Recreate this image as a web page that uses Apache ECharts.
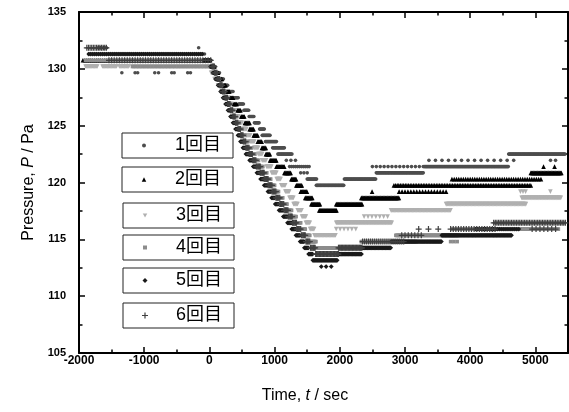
<!DOCTYPE html>
<html><head><meta charset="utf-8">
<script src="https://cdn.jsdelivr.net/npm/echarts@6/dist/echarts.min.js"></script>
<style>html,body{margin:0;padding:0;background:#fff}#c{width:569px;height:412px}</style>
</head><body><div id="c"></div>
<script>
// ---- axis ranges / ticks ----
const X_MIN = -2000, X_MAX = 5500, X_INTERVAL = 1000, X_MINOR = 500;
const Y_MIN = 105, Y_MAX = 135, Y_INTERVAL = 5;
const X_LABEL_LAST = 5000;

const NAMES = ['1回目', '2回目', '3回目', '4回目', '5回目', '6回目'];

// ---- data: runs of constant pressure [tStart, tEnd, P, sampleStep(s)] ----
const RUN1 = [
 [-1850,-60,131.3,25],
 [-1343,-1343,129.65],[-1140,-1140,129.65],[-1100,-1100,129.65],[-838,-838,129.65],[-780,-780,129.65],[-578,-578,129.65],[-540,-540,129.65],[-333,-333,129.65],[-290,-290,129.65],
 [-165,-165,131.85],
 [-50,30,130.75],[30,95,130.2],[95,155,129.65],[155,220,129.1],[220,290,128.55],[290,370,128.0],[370,450,127.45],[450,530,126.9],[530,610,126.35],[610,690,125.8],[690,770,125.25],[770,850,124.7],[810,930,124.15],[860,1030,123.6],[970,1150,123.05],[1050,1270,122.5],[1180,1320,121.95,70],[1230,1530,121.4,30],[1400,1500,120.85,50],[1500,1650,120.3],[1640,2070,119.75],[2070,2560,120.3],[2560,3290,120.85],[2500,3300,121.4,60],[3300,4590,121.4],[3367,4700,121.95,100],[5232,5232,121.95],[5309,5309,121.95],[4590,5460,122.5]
];
const RUN2 = [
 [-1940,29,130.75,30],
 [29,86,130.2],[86,143,129.65],[143,201,129.1],[201,258,128.55],[258,315,128.0],[315,372,127.45],[372,430,126.9],[430,487,126.35],[487,544,125.8],[544,617,125.25],[617,680,124.7],[680,742,124.15],[742,805,123.6],[805,867,123.05],[867,930,122.5],[930,1028,121.95],[1028,1150,121.4],[1150,1257,120.85],[1257,1333,120.3],[1333,1425,119.75],[1400,1500,119.2],[1470,1578,118.65],[1563,1700,118.1],[1685,1960,117.55],[1945,2343,118.1],[2330,2910,118.65],[2495,2495,119.2],[2910,3670,119.2,45],[2830,4940,119.75,25],[3720,5095,120.3,35],[4930,5400,120.85],[5125,5125,121.4],[5294,5294,121.4]
];
const RUN3 = [
 [-1900,-1710,130.2],[-1640,-1420,130.2],[-1380,-1230,130.2],[-1180,26,130.2],
 [26,79,129.65],[79,132,129.1],[132,185,128.55],[185,238,128.0],[238,291,127.45],[291,344,126.9],[344,397,126.35],[397,450,125.8],[450,507,125.25],[507,567,124.7],[567,628,124.15],[628,688,123.6],[688,749,123.05],[749,809,122.5],[809,877,121.95],[877,955,121.4],[955,1032,120.85],[1032,1102,120.3],[1102,1165,119.75],[1165,1228,119.2],[1228,1291,118.65],[1291,1354,118.1],[1354,1420,117.55],[1420,1480,117.0],[1480,1545,116.45],[1545,1610,115.9],[1610,1945,115.35],[1945,2250,115.9,60],[1945,2800,116.45],[2373,2786,117.0,60],[2786,3700,117.55],[3630,4865,118.1],[4790,5400,118.65],[4770,4850,119.2,40],[5230,5230,119.2]
];
const RUN4 = [
 [-1900,0,130.75,40],[-1180,50,130.2,50],
 [50,100,129.65],[100,150,129.1],[150,195,128.55],[195,240,128.0],[240,285,127.45],[285,330,126.9],[330,375,126.35],[375,420,125.8],[420,465,125.25],[465,510,124.7],[510,555,124.15],[555,600,123.6],[600,650,123.05],[650,705,122.5],[705,760,121.95],[760,820,121.4],[820,880,120.85],[880,940,120.3],[940,1000,119.75],[1000,1065,119.2],[1065,1130,118.65],[1130,1200,118.1],[1200,1270,117.55],[1270,1340,117.0],[1340,1410,116.45],[1410,1480,115.9],[1480,1550,115.35],[1550,1640,114.8],[1640,2330,114.25],[2330,3180,114.8],[2860,3830,115.35],[3700,3800,114.8,50],[3720,5355,115.9],[4390,5460,116.45,50]
];
const RUN5 = [
 [-1850,-100,131.3,30],[-1700,-1560,131.85,40],
 [-90,19,130.75],[19,57,130.2],[57,95,129.65],[95,134,129.1],[134,172,128.55],[172,210,128.0],[210,248,127.45],[248,286,126.9],[286,324,126.35],[324,363,125.8],[363,401,125.25],[401,439,124.7],[439,477,124.15],[477,515,123.6],[515,561,123.05],[561,617,122.5],[617,673,121.95],[673,729,121.4],[729,785,120.85],[785,841,120.3],[841,898,119.75],[898,954,119.2],[954,1010,118.65],[1010,1069,118.1],[1069,1134,117.55],[1134,1198,117.0],[1198,1263,116.45],[1263,1328,115.9],[1328,1392,115.35],[1392,1457,114.8],[1457,1522,114.25],[1522,1587,113.7],[1587,1960,113.15],[1716,1716,112.6],[1790,1790,112.6],[1869,1869,112.6],[1960,2340,113.7],[2300,2790,114.25],[2790,3565,114.8],[3565,4640,115.35],[4085,4745,115.9,30]
];
const RUN6 = [
 [-1880,-1560,131.85,25],[-1540,40,130.75,40],
 [40,80,130.2],[80,120,129.65],[120,160,129.1],[160,200,128.55],[200,240,128.0],[240,280,127.45],[280,320,126.9],[320,360,126.35],[360,400,125.8],[400,440,125.25],[440,480,124.7],[480,520,124.15],[520,560,123.6],[560,610,123.05],[610,665,122.5],[665,720,121.95],[720,780,121.4],[780,840,120.85],[840,900,120.3],[900,960,119.75],[960,1020,119.2],[1020,1080,118.65],[1080,1145,118.1],[1145,1210,117.55],[1210,1275,117.0],[1275,1340,116.45],[1340,1410,115.9],[1410,1480,115.35],[1480,1550,114.8],[1550,1630,114.25],[1630,1980,113.7],[1980,2350,114.25],[2350,3000,114.8,30],[2950,3250,115.35,50],[3210,3510,115.9,150],[3700,4400,115.9,40],[4360,5470,116.45,25],[4950,5350,115.9,60]
];
const RUNS = [RUN1, RUN2, RUN3, RUN4, RUN5, RUN6];

function expand(runs) {
  const out = [];
  for (const r of runs) {
    const step = r[3] || 12;
    for (let t = r[0]; t <= r[1]; t += step) out.push([t, r[2]]);
  }
  return out;
}

const FONT = "'Liberation Sans', Arial, 'Noto Sans CJK JP', sans-serif";
const PLUS = 'path://M0,4H10V6H0Z M4,0H6V10H4Z';
const DOWN_TRI = 'path://M0,0L10,0L5,9Z';
const STYLES = [
  {symbol:'circle', size:3.6, color:'#4d4d4d', leg:4},
  {symbol:'triangle', size:4.6, color:'#000000', leg:4.5},
  {symbol:DOWN_TRI, size:4.6, color:'#b0b0b0', leg:4.5},
  {symbol:'rect', size:3.6, color:'#8c8c8c', leg:4},
  {symbol:'diamond', size:4.8, color:'#1a1a1a', leg:5},
  {symbol:PLUS, size:6, color:'#404040', leg:6}
];
const LEG_TOP = [133, 167, 203, 235, 268, 303];
const LEG_LEFT = [122, 122, 123, 123, 123, 123];

const axisLine = {show:true, onZero:false, lineStyle:{color:'#000', width:2}};
const tickStyle = {color:'#000', width:1.5};

const chart = echarts.init(document.getElementById('c'), null, {renderer:'canvas'});
chart.setOption({
  animation:false,
  backgroundColor:'#fff',
  textStyle:{fontFamily:FONT},
  grid:{left:79, right:1, top:12, bottom:59, containLabel:false},
  legend: NAMES.map((n, i) => ({
    data:[{name:n, icon:STYLES[i].symbol}], left:LEG_LEFT[i], top:LEG_TOP[i], orient:'horizontal',
    itemWidth:STYLES[i].leg, itemHeight:STYLES[i].leg,
    padding:[3, 12, 3, 22 - STYLES[i].leg / 2],
    borderColor:'#222', borderWidth:1, backgroundColor:'#fff',
    selectedMode:false,
    textStyle:{fontSize:18, fontFamily:FONT, color:'#000', lineHeight:19, padding:[0,0,0,26 - STYLES[i].leg / 2]}
  })),
  xAxis:[
    {type:'value', gridIndex:0, min:X_MIN, max:X_MAX, interval:X_INTERVAL, position:'bottom',
     axisLine, axisTick:{show:true, inside:true, length:6, lineStyle:tickStyle},
     axisLabel:{show:true, margin:2, fontSize:12, fontWeight:'bold', color:'#000', fontFamily:FONT,
       showMaxLabel:false, formatter:v => (v <= X_LABEL_LAST ? String(v) : '')},
     splitLine:{show:false},
     name:'Time, {i|t} / sec', nameLocation:'middle', nameGap:35,
     nameTextStyle:{fontSize:16, color:'#000', fontFamily:FONT, padding:[0,37,0,0],
       rich:{i:{fontStyle:'italic', fontSize:16, fontFamily:FONT, color:'#000'}}}},
    {type:'value', gridIndex:0, min:X_MIN, max:X_MAX, interval:X_INTERVAL, position:'top',
     axisLine, axisTick:{show:true, inside:true, length:6, lineStyle:tickStyle},
     axisLabel:{show:false}, splitLine:{show:false}},
    {type:'value', gridIndex:0, min:X_MIN, max:X_MAX, interval:X_MINOR, position:'bottom',
     axisLine:{show:false, onZero:false}, axisTick:{show:true, inside:true, length:3.5, lineStyle:tickStyle},
     axisLabel:{show:false}, splitLine:{show:false}},
    {type:'value', gridIndex:0, min:X_MIN, max:X_MAX, interval:X_MINOR, position:'top',
     axisLine:{show:false, onZero:false}, axisTick:{show:true, inside:true, length:3.5, lineStyle:tickStyle},
     axisLabel:{show:false}, splitLine:{show:false}}
  ],
  yAxis:[
    {type:'value', gridIndex:0, min:Y_MIN, max:Y_MAX, interval:Y_INTERVAL, position:'left',
     axisLine, axisTick:{show:true, inside:true, length:6, lineStyle:tickStyle},
     minorTick:{show:true, splitNumber:2, length:3.5, lineStyle:tickStyle},
     axisLabel:{show:true, margin:13, fontSize:11, fontWeight:'bold', color:'#000', fontFamily:FONT},
     splitLine:{show:false}, minorSplitLine:{show:false},
     name:'Pressure, {i|P} / Pa', nameLocation:'middle', nameGap:36,
     nameTextStyle:{fontSize:16, color:'#000', fontFamily:FONT,
       rich:{i:{fontStyle:'italic', fontSize:16, fontFamily:FONT, color:'#000'}}}},
    {type:'value', gridIndex:0, min:Y_MIN, max:Y_MAX, interval:Y_INTERVAL, position:'right',
     axisLine, axisTick:{show:true, inside:true, length:6, lineStyle:tickStyle},
     minorTick:{show:true, splitNumber:2, length:3.5, lineStyle:tickStyle},
     axisLabel:{show:false}, splitLine:{show:false}, minorSplitLine:{show:false}}
  ],
  series: NAMES.map((n, i) => ({
    type:'scatter', name:n, xAxisIndex:0, yAxisIndex:0,
    data:expand(RUNS[i]),
    symbol:STYLES[i].symbol, symbolSize:STYLES[i].size,
    itemStyle:{color:STYLES[i].color, opacity:1},
    silent:true, large:false
  }))
});
</script></body></html>
